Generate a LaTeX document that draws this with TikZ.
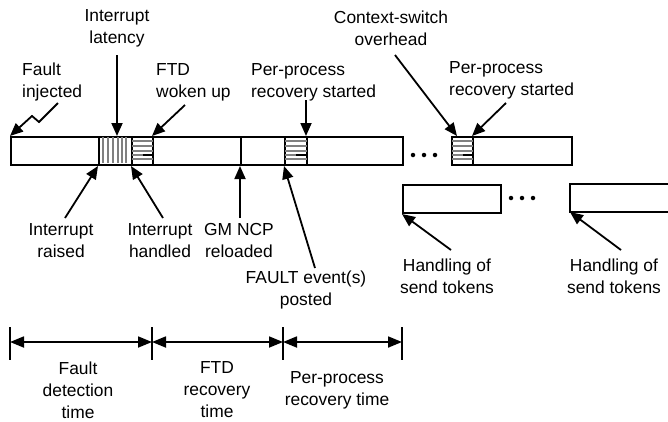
\documentclass[tikz,border=0pt]{standalone}
\usepackage{fontspec}
\setmainfont{Liberation Sans}
\usetikzlibrary{arrows.meta}
\begin{document}
\begin{tikzpicture}[x=1pt,y=-1pt,
  font=\fontsize{17.4}{22}\selectfont,
  lblc/.style={align=center, inner sep=0pt},
  lbll/.style={align=left, inner sep=0pt, anchor=west},
  seg/.style={draw, line width=2pt, inner sep=0pt, anchor=north west, minimum height=28pt},
  arr/.style={line width=1.8pt, -{Triangle[length=13pt,width=11pt]}},
  span/.style={line width=1.8pt, {Triangle[length=14pt,width=11pt]}-{Triangle[length=14pt,width=11pt]}},
  tick/.style={line width=1.8pt},
  hatch/.style={black!50, line width=1.2pt},
  dot/.style={fill=black, minimum size=4.5pt, inner sep=0pt, circle}]
\useasboundingbox (0,0) rectangle (668,421);

% ---- main timeline ----
\node[seg, minimum width=88pt] (s1) at (10,136) {};
\node[seg, minimum width=33pt] (lat) at (98,136) {};
\node[seg, minimum width=21pt] (h1) at (131,136) {};
\node[seg, minimum width=88pt] (s2) at (152,136) {};
\node[seg, minimum width=44pt] (s3) at (240,136) {};
\node[seg, minimum width=22pt] (h2) at (284,136) {};
\node[seg, minimum width=96pt] (s4) at (306,136) {};
\node[seg, minimum width=21pt] (h3) at (451,136) {};
\node[seg, minimum width=99pt] (s5) at (472,136) {};

% vertical hatching (interrupt latency)
\foreach \x in {103,108,113,118,122,126}
  \draw[hatch] (\x,137) -- (\x,163);
% horizontal hatching
\foreach \n in {h1,h2,h3}{
  \foreach \y in {141,146,151,155,159}
    \draw[hatch] ([xshift=1pt]\n.west |- 0,\y) -- ([xshift=-1pt]\n.east |- 0,\y);
  \draw[line width=1.2pt] (\n.center |- 0,155) -- ([xshift=-1pt]\n.east |- 0,155);
}

% ellipsis dots
\foreach \x/\nm in {413/da,424/db,435/dc}
  \node[dot] (\nm) at (\x,155) {};
\foreach \x/\nm in {511/dd,522/de,533/df}
  \node[dot] (\nm) at (\x,198) {};

% ---- send-token boxes ----
\node[seg, minimum width=98pt] (t1) at (402,184) {};
\coordinate (t2nw) at (570,184);
\coordinate (t2sw) at (570,212);
\draw[line width=2pt] (672,184) -- (t2nw) -- (t2sw) -- (672,212);

% ---- labels above ----
\node[lblc] (Llat) at (117,28) {Interrupt\\latency};
\node[lbll] (Lfault) at (22,82) {Fault\\injected};
\node[lbll] (Lwoken) at (156,82) {FTD\\woken up};
\node[lbll] (Lpp1) at (251,82) {Per-process\\recovery started};
\node[lblc] (Lctx) at (391,28) {Context-switch\\overhead};
\node[lbll] (Lpp2) at (449,80) {Per-process\\recovery started};

% ---- labels below ----
\node[lblc] (Lraised) at (61,241) {Interrupt\\raised};
\node[lblc] (Lhandled) at (160,241) {Interrupt\\handled};
\node[lblc] (Lncp) at (239,241) {GM NCP\\reloaded};
\node[lblc] (Lposted) at (306,290) {FAULT event(s)\\posted};
\node[lblc] (Ltok1) at (447,276) {Handling of\\send tokens};
\node[lblc] (Ltok2) at (614,276) {Handling of\\send tokens};

% ---- connectors ----
\coordinate (aLat) at (117,55);
\draw[arr] (aLat) -- (117,136);
\coordinate (aF0) at (58,103);
\coordinate (aF1) at (39,122);
\coordinate (aF2) at (32,116);
\draw[arr] (aF0) -- (aF1) -- (aF2) -- (s1.north west);
\coordinate (aW) at (185,105);
\draw[arr] (aW) -- (s2.north west);
\coordinate (aP1) at (306,100);
\draw[arr] (aP1) -- (s4.north west);
\coordinate (aC) at (395,55);
\draw[arr] (aC) -- ([xshift=6pt]h3.north west);
\coordinate (aP2) at (506,103);
\draw[arr] (aP2) -- (s5.north west);

\coordinate (aR) at (65,218);
\draw[arr] (aR) -- (lat.south west);
\coordinate (aH) at (163,218);
\draw[arr] (aH) -- (h1.south west);
\coordinate (aN) at (240,218);
\draw[arr] (aN) -- (s3.south west);
\coordinate (aE) at (315,268);
\draw[arr] (aE) -- (h2.south west);
\coordinate (aT1) at (451,250);
\draw[arr] (aT1) -- (t1.south west);
\coordinate (aT2) at (621,250);
\draw[arr] (aT2) -- (t2sw);

% ---- time spans ----
\foreach \x/\nm in {10/k0,152/k1,283/k2,402/k3}{
  \coordinate (\nm) at (\x,342);
  \draw[tick] (\x,327) -- (\x,360);
}
\draw[span] (k0) -- (k1);
\draw[span] (k1) -- (k2);
\draw[span] (k2) -- (k3);
\node[lblc] (Tdet) at (78,390) {Fault\\detection\\time};
\node[lblc] (Tftd) at (217,390) {FTD\\recovery\\time};
\node[lblc] (Tpp) at (337,390) {Per-process\\recovery time};
\end{tikzpicture}
\end{document}
